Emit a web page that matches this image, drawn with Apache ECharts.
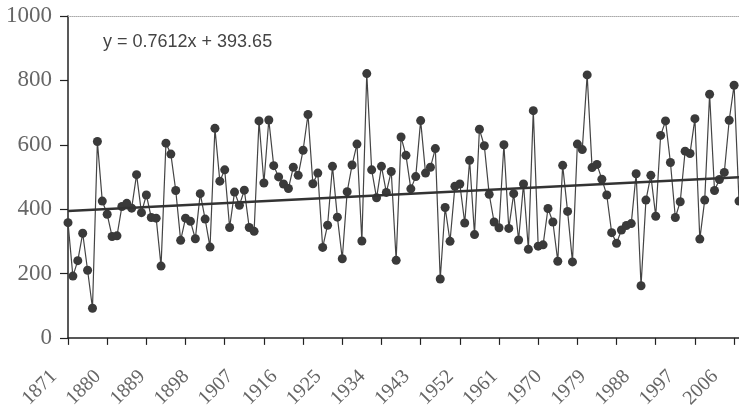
<!DOCTYPE html>
<html>
<head>
<meta charset="utf-8">
<script src="https://cdn.jsdelivr.net/npm/echarts@6/dist/echarts.min.js"></script>
<style>
  html, body { margin: 0; padding: 0; background: #fff; }
  #chart { width: 739px; height: 411px; }
</style>
</head>
<body>
<div id="chart"></div>
<script>
// Annual series 1871-2008
const firstYear = 1871;
const lastYear = 2008;
const years = [];
for (let y = firstYear; y <= lastYear; y++) years.push(String(y));

const values = [
  358, 192, 240, 325, 210, 92, 610, 425, 384, 315, 317, 408, 418, 403, 507, 389, 444,
  374, 372, 223, 605, 571, 458, 303, 372, 362, 308, 448, 369, 282, 651, 487, 522, 343,
  453, 412, 459, 343, 331, 674, 481, 677, 535, 500, 478, 464, 530, 505, 583, 694, 479,
  512, 281, 350, 533, 375, 246, 454, 537, 602, 301, 821, 522, 435, 533, 452,
  517, 241, 624, 567, 463, 501, 675, 512, 530, 588, 183, 405, 300, 471, 478, 357, 552,
  321, 648, 597, 446, 360, 342, 600, 340, 448, 304, 478, 275, 706, 285, 289, 402,
  360, 238, 536, 393, 236, 602, 585, 817, 529, 539, 493, 444, 327, 294, 335, 349, 355,
  510, 162, 428, 505, 378, 629, 674, 545, 374, 423, 580, 573, 681, 307, 428, 757, 458,
  492, 514, 676, 785, 425
];

// Linear trend  y = a*x + b, x = 1..n
const trendSlope = 0.7612;
const trendIntercept = 393.65;
const trendLabel = 'y = 0.7612x + 393.65';
const trendAt = i => trendSlope * i + trendIntercept;
const trend = [[0, trendAt(1)], [years.length - 1, trendAt(years.length)]];

const serif = '"Liberation Serif", "DejaVu Serif", serif';

const chart = echarts.init(document.getElementById('chart'));
chart.setOption({
  animation: false,
  grid: { left: 68, top: 16, width: 671, height: 325 },
  xAxis: [{
    type: 'category',
    data: years,
    boundaryGap: false,
    axisLine: { lineStyle: { color: '#222', width: 1.5 } },
    axisTick: { interval: 7, length: 7, lineStyle: { color: '#222', width: 1.2 } },
    axisLabel: {
      interval: 8, rotate: 45, margin: 21.5,
      // trailing spaces pull the slanted year text down-left of its tick
      formatter: v => v + '    ',
      fontFamily: serif, fontSize: 20, color: '#666'
    },
    splitLine: { show: false }
  }, {
    type: 'category',
    data: years,
    boundaryGap: false,
    position: 'top',
    axisLine: { lineStyle: { color: '#aaa', type: 'dotted', width: 1 } },
    axisTick: { show: false },
    axisLabel: { show: false },
    splitLine: { show: false }
  }],
  yAxis: {
    type: 'value',
    min: 0, max: 1000, interval: 200,
    axisLine: { show: true, lineStyle: { color: '#222', width: 1.5 } },
    axisTick: { show: true, length: 8, lineStyle: { color: '#222', width: 1.2 } },
    axisLabel: {
      margin: 16, formatter: v => String(v),
      fontFamily: serif, fontSize: 23, color: '#666'
    },
    splitLine: { show: false }
  },
  series: [{
    type: 'line',
    data: values,
    symbol: 'circle',
    symbolSize: 9,
    showSymbol: true,
    showAllSymbol: true,
    lineStyle: { color: '#444', width: 1.2 },
    itemStyle: { color: '#3a3a3a' },
    z: 3
  }, {
    type: 'line',
    data: trend,
    symbol: 'none',
    lineStyle: { color: '#333', width: 2.5 },
    z: 4
  }],
  graphic: [{
    type: 'text',
    left: 103, top: 33,
    style: { text: trendLabel, font: '18px "Liberation Sans", Arial, sans-serif', fill: '#444' }
  }]
});
</script>
</body>
</html>
